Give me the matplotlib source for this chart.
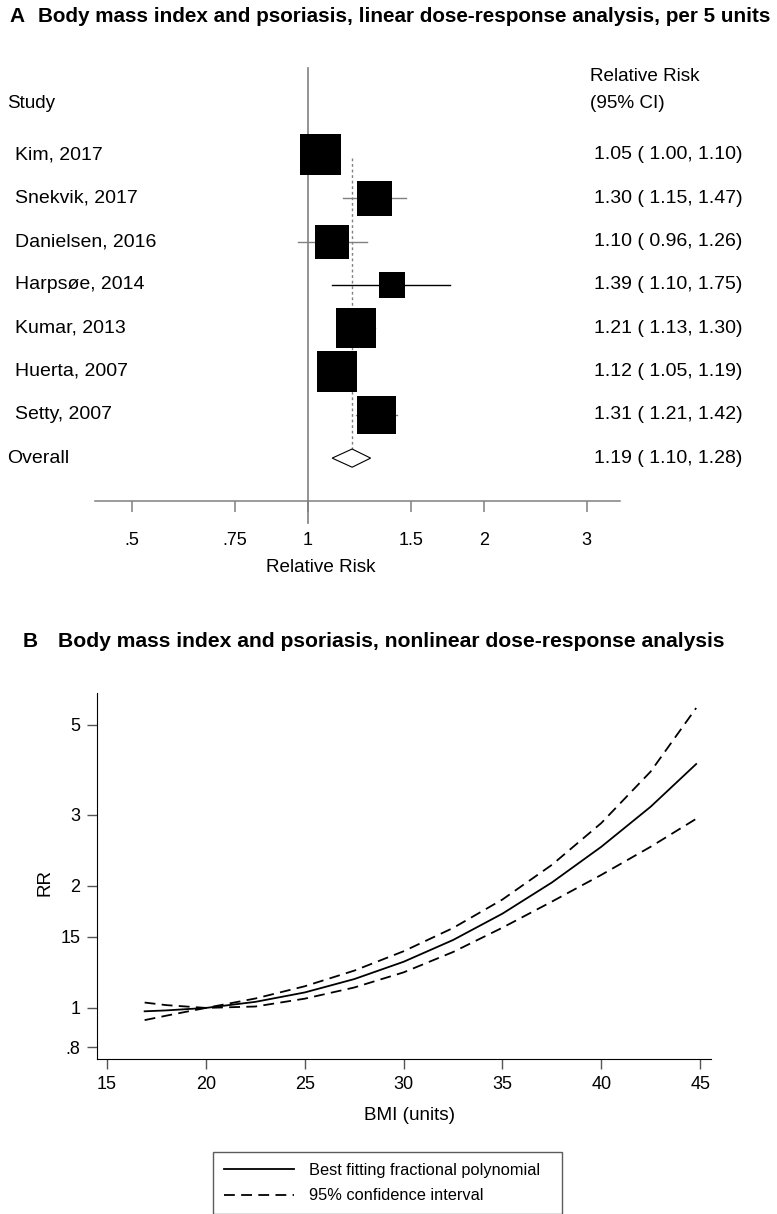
import matplotlib
matplotlib.use('Agg')
import matplotlib.pyplot as plt
from matplotlib.patches import Polygon

plt.rcParams['font.family'] = ['Liberation Sans', 'DejaVu Sans']

# ---- panel A data (linear dose-response, per 5 units)
studies = ['Kim, 2017', 'Snekvik, 2017', 'Danielsen, 2016', 'Harpsøe, 2014',
           'Kumar, 2013', 'Huerta, 2007', 'Setty, 2007']
rr = [1.05, 1.30, 1.10, 1.39, 1.21, 1.12, 1.31]
lo = [1.00, 1.15, 0.96, 1.10, 1.13, 1.05, 1.21]
hi = [1.10, 1.47, 1.26, 1.75, 1.30, 1.19, 1.42]
weights = [17.9, 13.1, 12.3, 7.2, 17.1, 17.1, 15.4]
overall = (1.19, 1.10, 1.28)
xticks_a = [0.5, 0.75, 1, 1.5, 2, 3]
xticklabels_a = ['.5', '.75', '1', '1.5', '2', '3']

# ---- panel B data (nonlinear dose-response)
bmi = [16.9, 18, 20, 22.5, 25, 27.5, 30, 32.5, 35, 37.5, 40, 42.5, 44.8]
rr_fit = [0.981, 0.986, 1.0, 1.035, 1.092, 1.178, 1.30, 1.471, 1.709, 2.04, 2.499, 3.139, 4.0]
rr_upper = [1.031, 1.016, 1.0, 1.055, 1.131, 1.236, 1.380, 1.575, 1.852, 2.255, 2.86, 3.834, 5.5]
rr_lower = [0.933, 0.957, 1.0, 1.008, 1.054, 1.123, 1.224, 1.374, 1.578, 1.83, 2.13, 2.50, 2.93]
xticks_b = [15, 20, 25, 30, 35, 40, 45]
yticks_b = [0.8, 1, 1.5, 2, 3, 5]
yticklabels_b = ['.8', '1', '15', '2', '3', '5']

W, H = 777, 1214
fs_row = 14
fs_head = 13.6
fs_tick = 13
fs_leg = 11.8
grey = '#808080'
title_font = ['Liberation Sans', 'DejaVu Sans']

fig = plt.figure(figsize=(W / 100, H / 100), dpi=100)


def fx(px):
    return px / W


def fy(py):
    return 1 - py / H


# ================= panel A =================
fig.text(fx(9), fy(16), 'A', fontsize=15, fontweight='bold', va='center', family=title_font)
fig.text(fx(38), fy(16), 'Body mass index and psoriasis, linear dose-response analysis, per 5 units',
         fontsize=14.9, fontweight='bold', va='center', family=title_font)

axA = fig.add_axes([fx(95), fy(501), fx(620) - fx(95), fy(60) - fy(501)])
axA.set_xscale('log')
axA.set_xlim(0.432, 3.42)
axA.set_ylim(7.99, -2.19)
for s in ['top', 'left', 'right']:
    axA.spines[s].set_visible(False)
axA.spines['bottom'].set_color(grey)
axA.spines['bottom'].set_linewidth(1.1)
axA.set_xticks(xticks_a)
axA.set_xticklabels(xticklabels_a)
axA.minorticks_off()
axA.set_yticks([])
axA.tick_params(axis='x', length=8, width=1.1, color=grey, labelsize=fs_tick, pad=14)

# reference line at 1
axA.plot([1, 1], [-2.0, 8.5], color=grey, lw=1.2, clip_on=False, zorder=1)
# overall dotted line
axA.plot([overall[0], overall[0]], [0.07, 7.0], color=grey, lw=1.0, ls=(0, (2, 2)), zorder=1)

rows = list(range(len(studies)))
ci_colors = [grey, grey, grey, 'black', grey, grey, grey]
for i in rows:
    axA.plot([lo[i], hi[i]], [i, i], color=ci_colors[i], lw=1.0, zorder=2)
axA.scatter(rr, rows, marker='s', s=[w * 48.7 for w in weights], color='black',
            linewidths=0, zorder=3)

# overall diamond
orow = len(studies)
dia = Polygon([[overall[1], orow], [overall[0], orow - 0.21], [overall[2], orow],
               [overall[0], orow + 0.21]], closed=True, facecolor='white',
              edgecolor='black', lw=0.8, zorder=3)
axA.add_patch(dia)

tr = axA.get_yaxis_transform()


def ax_x(px):
    return (px - 95) / 525


axA.text(ax_x(7), -1.18, 'Study', fontsize=fs_head, va='center', transform=tr)
axA.text(ax_x(590), -1.80, 'Relative Risk', fontsize=fs_head, va='center', transform=tr)
axA.text(ax_x(590), -1.18, '(95% CI)', fontsize=fs_head, va='center', transform=tr)
for i in rows:
    axA.text(ax_x(15), i, studies[i], fontsize=fs_row, va='center', transform=tr)
    axA.text(ax_x(594), i, '%.2f ( %.2f, %.2f)' % (rr[i], lo[i], hi[i]),
             fontsize=fs_row, va='center', transform=tr)
axA.text(ax_x(7), orow, 'Overall', fontsize=fs_row, va='center', transform=tr)
axA.text(ax_x(594), orow, '%.2f ( %.2f, %.2f)' % overall, fontsize=fs_row, va='center', transform=tr)

fig.text(fx(321), fy(567), 'Relative Risk', fontsize=fs_head, ha='center', va='center')

# ================= panel B =================
fig.text(fx(23), fy(642), 'B', fontsize=15, fontweight='bold', va='center', family=title_font)
fig.text(fx(58), fy(642), 'Body mass index and psoriasis, nonlinear dose-response analysis',
         fontsize=15.2, fontweight='bold', va='center', family=title_font)

axB = fig.add_axes([fx(97), fy(1059), fx(711) - fx(97), fy(693) - fy(1059)])
axB.set_yscale('log')
axB.set_xlim(14.49, 45.55)
axB.set_ylim(0.748, 5.99)
axB.spines['top'].set_visible(False)
axB.spines['right'].set_visible(False)
axB.set_xticks(xticks_b)
axB.set_yticks(yticks_b)
axB.set_yticklabels(yticklabels_b)
axB.minorticks_off()
axB.tick_params(axis='both', length=7, width=1.0, color='#555555', labelsize=fs_tick, pad=5)

l1, = axB.plot(bmi, rr_fit, color='black', lw=1.3)
l2, = axB.plot(bmi, rr_upper, color='black', lw=1.3, dashes=(6, 3.5))
axB.plot(bmi, rr_lower, color='black', lw=1.3, dashes=(6, 3.5))

fig.text(fx(45), fy(882), 'RR', fontsize=fs_head, rotation=90, ha='center', va='center')
fig.text(fx(410), fy(1115), 'BMI (units)', fontsize=fs_head, ha='center', va='center')

leg = fig.legend([l1, l2], ['Best fitting fractional polynomial', '95% confidence interval'],
                 loc='upper left', bbox_to_anchor=(fx(213), fy(1152), fx(562) - fx(213), 0),
                 mode='expand', frameon=True,
                 fancybox=False, fontsize=fs_leg, handlelength=4.3, handletextpad=0.9,
                 labelspacing=0.65, borderpad=0.65, borderaxespad=0)
leg.get_frame().set_edgecolor('#333333')
leg.get_frame().set_linewidth(1.0)

fig.savefig('out.png', dpi=100)
